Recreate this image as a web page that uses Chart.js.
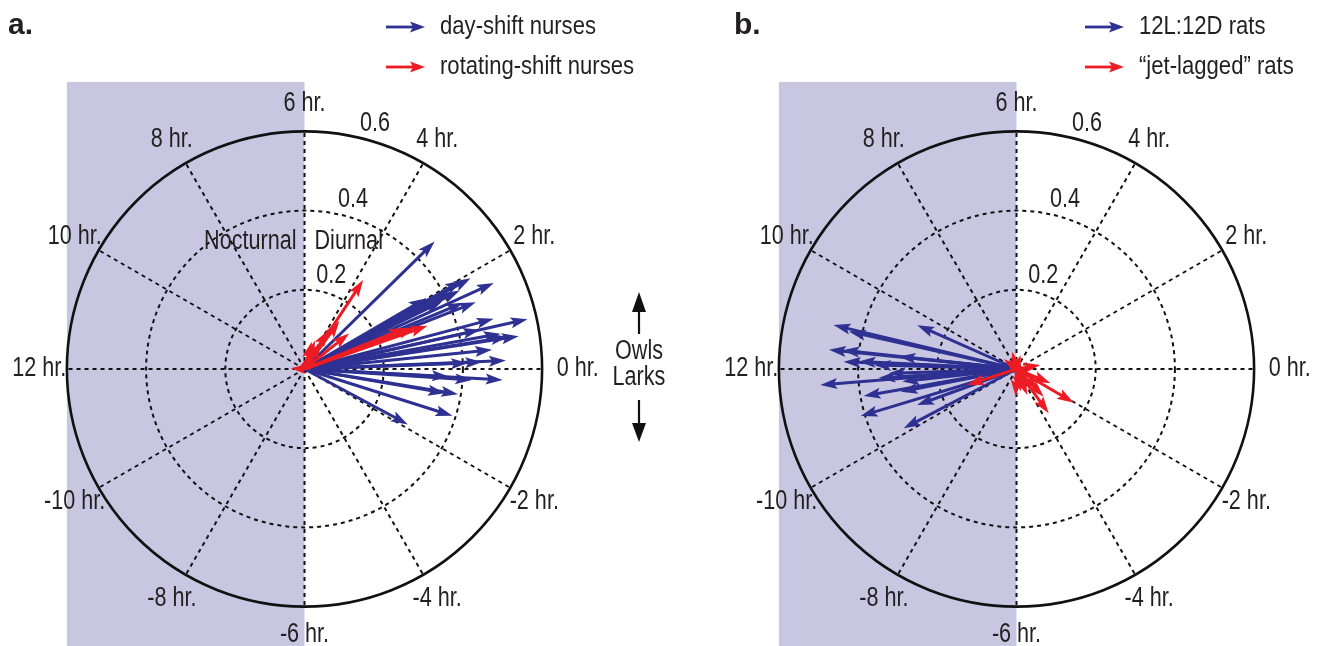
<!DOCTYPE html>
<html>
<head>
<meta charset="utf-8">
<script src="https://cdn.jsdelivr.net/npm/chart.js@4.4.1/dist/chart.umd.min.js"></script>
<style>
  html, body { margin: 0; padding: 0; background: #fff; }
  #wrap { position: relative; width: 1322px; height: 646px; }
  canvas { position: absolute; top: 0; }
</style>
</head>
<body>
<div id="wrap">
  <canvas id="chartA" width="690" height="646" style="left:0"></canvas>
  <canvas id="chartB" width="632" height="646" style="left:690px"></canvas>
</div>
<script>
// phase (hours) and amplitude of each arrow
const dayNurseHours = [2.96, 1.91, 1.95, 1.63, 1.79, 1.42, 2.01, 0.99, 0.84, 0.58, 0.68, 0.39, 0.16, 0.15,
                       -0.21, -0.20, -0.25, -0.62, -1.17, -1.88, 1.84, 0.84, 0.60, 0.14, 1.51, -0.65, 1.74];
const dayNurseAmp = [0.460, 0.478, 0.456, 0.525, 0.439, 0.464, 0.354, 0.494, 0.577, 0.547, 0.503, 0.476, 0.509, 0.449,
                     0.501, 0.365, 0.424, 0.393, 0.392, 0.296, 0.415, 0.454, 0.520, 0.413, 0.434, 0.360, 0.386];
const rotNurseHours = [3.77, 1.29, 1.37, 1.47, 2.57, 3.90, 3.85, 5.0, 4.7, 4.64, 11.8, 3.6];
const rotNurseAmp = [0.269, 0.329, 0.298, 0.276, 0.144, 0.115, 0.082, 0.071, 0.043, 0.076, 0.035, 0.150];

const ctlRatHours = [11.10, 11.16, 10.41, 11.61, 11.84, 11.82, 11.60, -11.69, -11.87, -11.58, -11.33, -11.26,
                     -10.88, -10.67, -10.15, 11.89, -11.75, 11.59];
const ctlRatAmp = [0.475, 0.434, 0.274, 0.476, 0.437, 0.399, 0.299, 0.497, 0.323, 0.290, 0.392, 0.298,
                   0.411, 0.267, 0.322, 0.360, 0.349, 0.442];
const jetRatHours = [-10.8, -2.03, -3.59, 0.63, 6.93, 4.9, -1.52, -4.5, -6.1, -2.89, 8.7, -1.7, -3.03, -5.3, 9.5];
const jetRatAmp = [0.131, 0.168, 0.138, 0.061, 0.045, 0.037, 0.093, 0.071, 0.070, 0.077, 0.030, 0.044, 0.098, 0.058, 0.040];

const hourTicks = [6, 4, 2, 0, -2, -4, -6, -8, -10, 12, 10, 8];
const ringTicks = [0.2, 0.4, 0.6];

const BLUE = '#2e3192';
const RED = '#ed1c24';
const SHADE = '#c9c6e2';
const INK = '#231f20';
const FONT = '"Liberation Sans", Arial, Helvetica, sans-serif';

function toXY(hours, amps) {
    return hours.map(function(h, i) {
        const a = h * Math.PI / 12;
        return { x: amps[i] * Math.cos(a), y: amps[i] * Math.sin(a) };
    });
}

function txt(ctx, s, x, y, align, size, sx, bold) {
    ctx.save();
    ctx.translate(x, y);
    ctx.scale(sx, 1);
    ctx.font = (bold ? 'bold ' : '') + size + 'px ' + FONT;
    ctx.textAlign = align;
    ctx.textBaseline = 'middle';
    ctx.fillStyle = INK;
    ctx.fillText(s, 0, 0);
    ctx.restore();
}

function drawArrow(ctx, x0, y0, x1, y1, color, lw, hl, hw) {
    const dx = x1 - x0, dy = y1 - y0, len = Math.hypot(dx, dy);
    if (!len) return;
    const ux = dx / len, uy = dy / len;
    const L = Math.min(hl, len * 1.1);
    const W = hw * L / hl;
    ctx.setLineDash([]);
    ctx.strokeStyle = color;
    ctx.fillStyle = color;
    ctx.lineWidth = lw;
    ctx.beginPath();
    ctx.moveTo(x0, y0);
    ctx.lineTo(x1 - ux * L * 0.7, y1 - uy * L * 0.7);
    ctx.stroke();
    const bx = x1 - ux * L, by = y1 - uy * L;
    ctx.beginPath();
    ctx.moveTo(x1, y1);
    ctx.lineTo(bx - uy * W / 2, by + ux * W / 2);
    ctx.lineTo(x1 - ux * L * 0.8, y1 - uy * L * 0.8);
    ctx.lineTo(bx + uy * W / 2, by - ux * W / 2);
    ctx.closePath();
    ctx.fill();
}

// polar grid, shading and labels drawn through the chart scales
const polarPlugin = {
    id: 'polarGrid',
    beforeDatasetsDraw: function(chart, args, opts) {
        const ctx = chart.ctx;
        const xs = chart.scales.x, ys = chart.scales.y;
        const cx = xs.getPixelForValue(0), cy = ys.getPixelForValue(0);
        const u = xs.getPixelForValue(1) - cx;
        const rMax = ringTicks[ringTicks.length - 1];
        ctx.save();
        // night half
        const top = ys.getPixelForValue(0.725);
        ctx.fillStyle = SHADE;
        ctx.fillRect(xs.getPixelForValue(-rMax), top, cx - xs.getPixelForValue(-rMax), chart.height - top);

        ctx.strokeStyle = '#111';
        ctx.lineWidth = 2;
        ctx.setLineDash([4, 4]);
        hourTicks.forEach(function(h) {
            const a = h * Math.PI / 12;
            ctx.beginPath();
            ctx.moveTo(cx, cy);
            ctx.lineTo(xs.getPixelForValue(rMax * Math.cos(a)), ys.getPixelForValue(rMax * Math.sin(a)));
            ctx.stroke();
        });
        ringTicks.forEach(function(r, i) {
            const last = i === ringTicks.length - 1;
            ctx.setLineDash(last ? [] : [4, 4]);
            ctx.lineWidth = last ? 2.6 : 2;
            ctx.beginPath();
            ctx.arc(cx, cy, r * u, 0, Math.PI * 2);
            ctx.stroke();
        });
        ctx.restore();

        hourTicks.forEach(function(h) {
            const a = h * Math.PI / 12;
            const lr = h === 0 ? 0.69 : 0.67;
            txt(ctx, h + ' hr.', xs.getPixelForValue(lr * Math.cos(a)), ys.getPixelForValue(lr * Math.sin(a)),
                'center', 27, 0.8);
        });
        const ra = 74 * Math.PI / 180;
        ringTicks.forEach(function(r) {
            txt(ctx, String(r), xs.getPixelForValue((r + 0.045) * Math.cos(ra)),
                ys.getPixelForValue((r + 0.045) * Math.sin(ra)), 'center', 27, 0.8);
        });
    },
    afterDatasetsDraw: function(chart, args, opts) {
        const ctx = chart.ctx;
        const cx = chart.scales.x.getPixelForValue(0), cy = chart.scales.y.getPixelForValue(0);
        ctx.save();
        chart.data.datasets.forEach(function(ds, i) {
            chart.getDatasetMeta(i).data.forEach(function(el) {
                drawArrow(ctx, cx, cy, el.x, el.y, ds.borderColor, 3, 17, 11);
            });
        });
        ctx.restore();
    },
    afterDraw: function(chart, args, opts) {
        const ctx = chart.ctx;
        const cx = chart.scales.x.getPixelForValue(0);
        txt(ctx, opts.letter, opts.letterX, 26, 'left', 30, 1, true);
        chart.data.datasets.forEach(function(ds, i) {
            const y = 27 + i * 40;
            drawArrow(ctx, opts.legendX, y, opts.legendX + 39, y, ds.borderColor, 2.8, 15, 11);
            txt(ctx, ds.label, opts.legendX + 54, y, 'left', 26, 0.85);
        });
        if (opts.sides) {
            txt(ctx, 'Nocturnal', cx - 8, 242, 'right', 27, 0.8);
            txt(ctx, 'Diurnal', cx + 10, 242, 'left', 27, 0.8);
            txt(ctx, 'Owls', 639, 352, 'center', 27, 0.8);
            txt(ctx, 'Larks', 639, 378, 'center', 27, 0.8);
            ctx.save();
            ctx.strokeStyle = '#111';
            ctx.fillStyle = '#111';
            ctx.lineWidth = 2.2;
            ctx.beginPath();
            ctx.moveTo(639, 334); ctx.lineTo(639, 305);
            ctx.moveTo(639, 400); ctx.lineTo(639, 430);
            ctx.stroke();
            ctx.beginPath();
            ctx.moveTo(639, 292); ctx.lineTo(646, 312); ctx.lineTo(632, 312); ctx.closePath();
            ctx.moveTo(639, 442); ctx.lineTo(646, 423); ctx.lineTo(632, 423); ctx.closePath();
            ctx.fill();
            ctx.restore();
        }
    }
};

function makePolar(id, cxPx, cyPx, sets, extra) {
    const k = 396; // pixels per unit amplitude
    const canvas = document.getElementById(id);
    const w = canvas.width, h = canvas.height;
    return new Chart(canvas, {
        type: 'scatter',
        data: {
            datasets: sets.map(function(s) {
                return { label: s.label, data: toXY(s.hours, s.amp), borderColor: s.color,
                         backgroundColor: s.color, pointRadius: 0, clip: false };
            })
        },
        options: {
            responsive: false,
            animation: false,
            events: [],
            layout: { padding: 0 },
            scales: {
                x: { type: 'linear', display: false, min: -cxPx / k, max: (w - cxPx) / k },
                y: { type: 'linear', display: false, min: -(h - cyPx) / k, max: cyPx / k }
            },
            plugins: {
                legend: { display: false },
                tooltip: { enabled: false },
                polarGrid: extra
            }
        },
        plugins: [polarPlugin]
    });
}

document.addEventListener('DOMContentLoaded', function() {
    makePolar('chartA', 304.5, 369, [
        { label: 'day-shift nurses', hours: dayNurseHours, amp: dayNurseAmp, color: BLUE },
        { label: 'rotating-shift nurses', hours: rotNurseHours, amp: rotNurseAmp, color: RED }
    ], { letter: 'a.', letterX: 8, legendX: 386, sides: true });

    makePolar('chartB', 326.5, 369, [
        { label: '12L:12D rats', hours: ctlRatHours, amp: ctlRatAmp, color: BLUE },
        { label: '\u201cjet-lagged\u201d rats', hours: jetRatHours, amp: jetRatAmp, color: RED }
    ], { letter: 'b.', letterX: 44, legendX: 395, sides: false });
});
</script>
</body>
</html>
